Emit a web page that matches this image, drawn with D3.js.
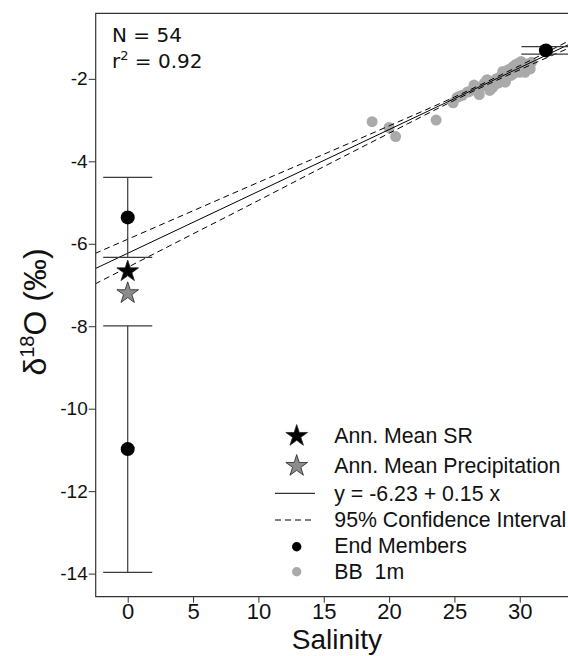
<!DOCTYPE html>
<html><head><meta charset="utf-8">
<script src="https://cdn.jsdelivr.net/npm/d3@7"></script>
<style>body{margin:0;background:#fff} svg{display:block} text{font-family:"Liberation Sans",Arial,sans-serif}</style>
</head><body><svg id="c" width="568" height="656"></svg>
<script>
// ---- data ----
const xTicks = [0, 5, 10, 15, 20, 25, 30];
const yTicks = [-2, -4, -6, -8, -10, -12, -14];

const bbSalinity = [18.7, 20.0, 20.5, 23.6, 24.9, 25.2, 25.6, 26.0, 26.5, 26.6,
  26.9, 27.1, 27.5, 27.6, 27.9, 28.0, 28.2, 28.4, 28.5, 28.7,
  28.8, 28.9, 29.0, 29.1, 29.2, 29.3, 29.4, 29.5, 29.6, 29.7,
  29.8, 29.9, 30.0, 30.1, 30.2, 30.3, 30.4, 30.5, 30.6, 30.8,
  25.4, 27.3, 28.1, 29.0, 30.0, 26.2, 27.7, 28.6, 29.5, 30.7, 30.9];
const bbD18O = [-3.04, -3.18, -3.40, -3.00, -2.58, -2.45, -2.40, -2.32, -2.15, -2.24,
  -2.38, -2.18, -2.02, -2.12, -2.22, -2.05, -2.00, -2.10, -1.95, -1.82,
  -1.92, -2.08, -1.88, -1.78, -1.86, -1.92, -1.74, -1.70, -1.80, -1.65,
  -1.75, -1.62, -1.72, -1.58, -1.68, -1.78, -1.84, -1.64, -1.70, -1.76,
  -2.42, -2.10, -2.14, -1.98, -1.84, -2.30, -2.28, -2.05, -1.88, -1.66, -1.60];

const endSalinity = [0, 0, 32];
const endD18O = [-5.36, -10.98, -1.31];
const endErr = [0.97, 2.99, 0.09];

const starSalinity = [0, 0];
const starD18O = [-6.67, -7.20];

const fitIntercept = -6.23;
const fitSlope = 0.15;
const ciSalinity = [-2.5, 0, 5, 10, 15, 20, 25, 30, 35, 37];
const ciHalfWidth = [0.37, 0.34, 0.28, 0.22, 0.15, 0.09, 0.04, 0.05, 0.10, 0.12];

const legendLabels = ["Ann. Mean SR", "Ann. Mean Precipitation", "y = -6.23 + 0.15 x",
  "95% Confidence Interval", "End Members", "BB  1m"];

// ---- chart ----
const svg = d3.select("#c");
const x = d3.scaleLinear().domain([-2.45, 36.14]).range([95.7, 600]);
const y = d3.scaleLinear().domain([-14.56, -0.41]).range([596.7, 13.3]);
const axisCol = "#333";
const fmt = d => String(d);

// grey points
svg.append("g").selectAll("circle").data(bbSalinity).join("circle")
  .attr("cx", (d) => x(d)).attr("cy", (d, i) => y(bbD18O[i])).attr("r", 5.5)
  .attr("fill", "#aaaaaa");

// fit + CI
const fitLine = d3.line().x(d => x(d)).y(d => y(fitIntercept + fitSlope * d));
svg.append("path").attr("d", fitLine([-2.45, 37])).attr("stroke", "#000")
  .attr("stroke-width", 1).attr("fill", "none");
const ciUp = d3.line().curve(d3.curveMonotoneX).x(d => x(d)).y((d, i) => y(fitIntercept + fitSlope * d + ciHalfWidth[i]));
const ciLo = d3.line().curve(d3.curveMonotoneX).x(d => x(d)).y((d, i) => y(fitIntercept + fitSlope * d - ciHalfWidth[i]));
svg.append("clipPath").attr("id", "pc").append("rect").attr("x", 95.7).attr("y", 13.3).attr("width", 520).attr("height", 583.4);
const clipG = svg.append("g").attr("clip-path", "url(#pc)");
[ciUp, ciLo].forEach(g => clipG.append("path").attr("d", g(ciSalinity)).attr("stroke", "#000")
  .attr("stroke-width", 1).attr("stroke-dasharray", "6,4").attr("fill", "none"));

// error bars
const capHalf = 1.875;
const eb = svg.append("g").attr("stroke", "#3a3a3a").attr("stroke-width", 1.2);
endSalinity.forEach((s, i) => {
  eb.append("line").attr("x1", x(s)).attr("x2", x(s)).attr("y1", y(endD18O[i] + endErr[i])).attr("y2", y(endD18O[i] - endErr[i]));
  [endD18O[i] + endErr[i], endD18O[i] - endErr[i]].forEach(v =>
    eb.append("line").attr("x1", x(s - capHalf)).attr("x2", x(s + capHalf)).attr("y1", y(v)).attr("y2", y(v)));
});
svg.append("g").selectAll("circle").data(endSalinity).join("circle")
  .attr("cx", d => x(d)).attr("cy", (d, i) => y(endD18O[i])).attr("r", 7).attr("fill", "#000");

// stars
const star = d3.symbol().type(d3.symbolStar).size(146);
const starFill = ["#000", "#8c8c8c"];
svg.append("g").selectAll("path").data(starSalinity).join("path")
  .attr("d", star).attr("transform", (d, i) => `translate(${x(d)},${y(starD18O[i])})`)
  .attr("fill", (d, i) => starFill[i]).attr("stroke", "#222").attr("stroke-width", 0.8);

// axes
const ax = svg.append("g").attr("transform", "translate(95.7,0)")
  .call(d3.axisLeft(y).tickValues(yTicks).tickFormat(fmt).tickSize(7).tickSizeOuter(0).tickPadding(1));
ax.select(".domain").remove();
ax.selectAll("line").attr("stroke", axisCol);
ax.selectAll("text").attr("font-size", 19).attr("fill", "#111").style("font-family", "Liberation Sans");
const bx = svg.append("g").attr("transform", "translate(0,596.7)")
  .call(d3.axisBottom(x).tickValues(xTicks).tickFormat(fmt).tickSize(6).tickSizeOuter(0).tickPadding(1));
bx.select(".domain").remove();
bx.selectAll("line").attr("stroke", axisCol);
bx.selectAll("text").attr("font-size", 22).attr("fill", "#111").style("font-family", "Liberation Sans");
// frame
svg.append("path").attr("d", "M600,13.3H95.7V596.7H600").attr("fill", "none").attr("stroke", axisCol).attr("stroke-width", 1.2);

// axis titles
svg.append("text").attr("x", 337).attr("y", 649).attr("text-anchor", "middle").attr("font-size", 28).attr("fill", "#111").text("Salinity");
const yl = svg.append("text").attr("transform", "translate(46,312) rotate(-90)").attr("text-anchor", "middle")
  .attr("font-size", 32).attr("fill", "#111");
yl.append("tspan").text("δ");
yl.append("tspan").attr("font-size", 20).attr("dy", -12).text("18");
yl.append("tspan").attr("dy", 12).text("O (‰)");

// stats
const st = svg.append("g").attr("font-size", 20).attr("fill", "#111").style("font-family", "DejaVu Sans");
st.append("text").attr("x", 112).attr("y", 41.7).style("font-family", "DejaVu Sans").text("N = 54");
const r2 = st.append("text").attr("x", 112).attr("y", 68.3).style("font-family", "DejaVu Sans");
r2.append("tspan").text("r");
r2.append("tspan").attr("font-size", 13).attr("dy", -8).text("2");
r2.append("tspan").attr("dy", 8).text(" = 0.92");

// legend
const lgX = 296.7, lgTx = 334.3;
const lgBase = [443, 473, 501, 527, 553, 579];
const lg = svg.append("g");
lg.append("path").attr("d", star).attr("transform", `translate(${lgX},${436})`).attr("fill", starFill[0]).attr("stroke", "#222").attr("stroke-width", 0.8);
lg.append("path").attr("d", star).attr("transform", `translate(${lgX},${466})`).attr("fill", starFill[1]).attr("stroke", "#222").attr("stroke-width", 0.8);
lg.append("line").attr("x1", 275).attr("x2", 315).attr("y1", 493.3).attr("y2", 493.3).attr("stroke", "#000").attr("stroke-width", 1);
lg.append("line").attr("x1", 275).attr("x2", 315).attr("y1", 520).attr("y2", 520).attr("stroke", "#000").attr("stroke-width", 1).attr("stroke-dasharray", "6,4");
lg.append("circle").attr("cx", lgX).attr("cy", 546.7).attr("r", 4.7).attr("fill", "#000");
lg.append("circle").attr("cx", lgX).attr("cy", 571.7).attr("r", 4.7).attr("fill", "#aaaaaa");
lg.selectAll("text").data(legendLabels).join("text")
  .attr("x", lgTx).attr("y", (d, i) => lgBase[i]).attr("font-size", 21.3).attr("fill", "#111")
  .style("white-space", "pre").attr("xml:space", "preserve").text(d => d);
</script></body></html>
